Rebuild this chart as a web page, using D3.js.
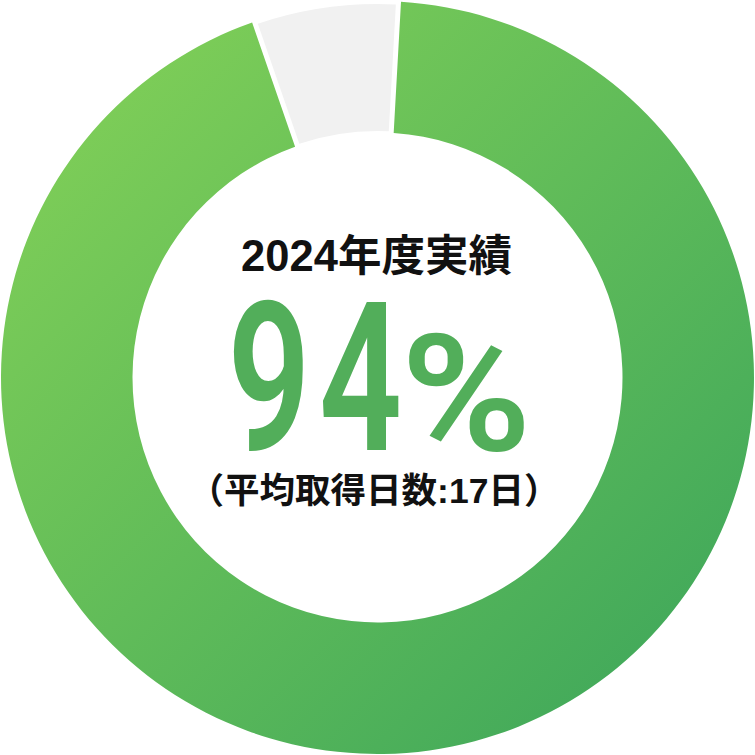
<!DOCTYPE html>
<html>
<head>
<meta charset="utf-8">
<script src="https://cdn.jsdelivr.net/npm/d3@7"></script>
<style>
  html, body { margin:0; padding:0; background:#fff; }
  svg { display:block; }
</style>
</head>
<body>
<div id="chart"></div>
<script>
// data
var labels = ["取得", "未取得"],
    values = [94, 6],
    title = "2024年度実績",
    rateText = "94",
    unitText = "%",
    note = "（平均取得日数:17日）";

var w = 755, h = 755,
    cx = 377.5, cy = 377.5,
    rOuter = 376.5, rInner = 245;

var svg = d3.select("#chart")
  .append("svg")
  .attr("width", w)
  .attr("height", h);

var defs = svg.append("defs");
var grad = defs.append("linearGradient")
  .attr("id", "greenGrad")
  .attr("gradientUnits", "userSpaceOnUse")
  .attr("x1", -cx).attr("y1", -cy)
  .attr("x2", w - cx).attr("y2", h - cy);
grad.append("stop").attr("offset", "0%").attr("stop-color", "#87d357");
grad.append("stop").attr("offset", "100%").attr("stop-color", "#39a45b");

var g = svg.append("g")
  .attr("transform", "translate(" + cx + "," + cy + ")");

// start a little past 12 o'clock, like the original
var offset = 3.2 * Math.PI / 180;

var pie = d3.pie()
  .sort(null)
  .value(function(d){ return d; })
  .startAngle(offset)
  .endAngle(offset + 2 * Math.PI)
  .padAngle(5 / rOuter);

var arcs = pie(values);

var arcGreen = d3.arc()
  .innerRadius(rInner)
  .outerRadius(rOuter)
  .padRadius(rOuter);

var arcGray = d3.arc()
  .innerRadius(rInner + 1.5)
  .outerRadius(rOuter - 3)
  .padRadius(rOuter);

g.selectAll(".slice")
  .data(arcs)
  .enter()
  .append("path")
  .attr("class", "slice")
  .attr("d", function(d, i){ return i == 0 ? arcGreen(d) : arcGray(d); })
  .attr("fill", function(d, i){ return i == 0 ? "url(#greenGrad)" : "#f1f1f1"; });

// center texts
var jpFont = "'Liberation Sans', 'Noto Sans CJK JP', sans-serif";

svg.append("text")
  .attr("x", cx - 1)
  .attr("y", 256)
  .attr("text-anchor", "middle")
  .attr("dominant-baseline", "central")
  .attr("font-family", jpFont)
  .attr("font-weight", 700)
  .attr("font-size", "43.5px")
  .attr("fill", "#111")
  .text(title);

svg.append("text")
  .attr("transform", "translate(319,450) scale(0.7,1)")
  .attr("text-anchor", "middle")
  .attr("font-family", "Roboto, sans-serif")
  .attr("font-weight", 600)
  .attr("font-size", "208px")
  .attr("letter-spacing", "12px")
  .attr("fill", "#52ae5a")
  .text(rateText);

svg.append("text")
  .attr("transform", "translate(466,450) scale(1.08,1)")
  .attr("text-anchor", "middle")
  .attr("font-family", "Roboto, sans-serif")
  .attr("font-weight", 600)
  .attr("font-size", "164px")
  .attr("fill", "#52ae5a")
  .text(unitText);

svg.append("text")
  .attr("x", 374)
  .attr("y", 491)
  .attr("text-anchor", "middle")
  .attr("dominant-baseline", "central")
  .attr("font-family", jpFont)
  .attr("font-weight", 700)
  .attr("font-size", "35.5px")
  .attr("fill", "#111")
  .text(note);
</script>
</body>
</html>
